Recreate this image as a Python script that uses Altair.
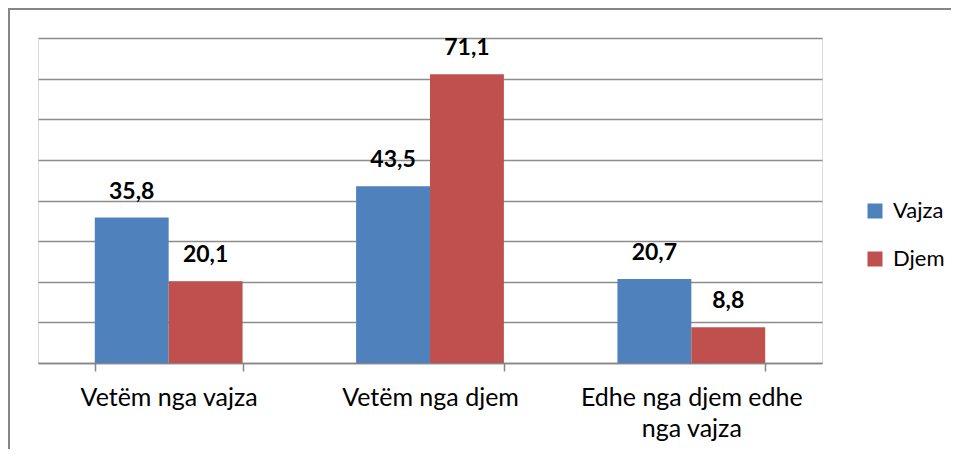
import altair as alt
import pandas as pd

categories = ["Vetëm nga vajza", "Vetëm nga djem", "Edhe nga djem edhe nga vajza"]
series = ["Vajza", "Djem"]
vajza = [35.8, 43.5, 20.7]
djem = [20.1, 71.1, 8.8]
colors = ["#4F81BD", "#C0504D"]
y_ticks = [0, 10, 20, 30, 40, 50, 60, 70, 80]

rows = []
for c, v in zip(categories, vajza):
    rows.append({"cat": c, "series": "Vajza", "value": v})
for c, v in zip(categories, djem):
    rows.append({"cat": c, "series": "Djem", "value": v})
df = pd.DataFrame(rows)

W, H = 784, 325
FONT = "Lato"

x_enc = alt.X(
    "cat:N",
    sort=categories,
    scale=alt.Scale(paddingInner=0.4345, paddingOuter=0.2173),
    axis=alt.Axis(
        title=None,
        tickBand="extent",
        tickSize=8,
        tickColor="#868686",
        tickWidth=1.5,
        domainColor="#868686",
        domainWidth=1.5,
        labelFont=FONT,
        labelFontSize=25,
        labelColor="#000000",
        labelPadding=14,
        labelLineHeight=31,
        labelLimit=0,
        labelAngle=0,
        labelExpr="datum.label == 'Edhe nga djem edhe nga vajza' ? ['Edhe nga djem edhe', 'nga vajza'] : datum.label",
        grid=False,
    ),
)
xoff = alt.XOffset("series:N", sort=series, scale=alt.Scale(paddingInner=0, paddingOuter=0))
y_enc = alt.Y(
    "value:Q",
    scale=alt.Scale(domain=[0, 80], nice=False),
    axis=alt.Axis(
        title=None,
        values=y_ticks,
        labels=False,
        ticks=False,
        domain=False,
        grid=True,
        gridColor="#8c8c8c",
        gridWidth=1.5,
    ),
)

base = alt.Chart(df)

bars = base.mark_bar().encode(
    x=x_enc,
    xOffset=xoff,
    y=y_enc,
    color=alt.Color(
        "series:N",
        sort=series,
        scale=alt.Scale(domain=series, range=colors),
        legend=alt.Legend(
            title=None,
            orient="none",
            legendX=826,
            legendY=162,
            symbolType="square",
            symbolSize=225,
            symbolStrokeWidth=0,
            labelFont=FONT,
            labelFontSize=22,
            labelColor="#000000",
            labelOffset=7,
            rowPadding=26,
        ),
    ),
)

labels = base.transform_calculate(
    lbl="replace(format(datum.value, '.1f'), '.', ',')"
).mark_text(
    font=FONT, fontSize=23, fontWeight="bold", color="#000000",
    baseline="alphabetic", dy=-19,
).encode(
    x=alt.X("cat:N", sort=categories),
    xOffset=xoff,
    y=alt.Y("value:Q"),
    text="lbl:N",
)

frame = alt.Chart(alt.Data(values=[{"a": 1}])).mark_rect(
    fill=None, stroke="#868686", strokeWidth=2
).encode(
    x=alt.value(-29), x2=alt.value(2000), y=alt.value(-29), y2=alt.value(2000)
)

chart = alt.layer(frame, bars, labels).properties(
    width=W,
    height=H,
    autosize=alt.AutoSizeParams(type="none"),
    padding={"left": 30, "top": 30, "right": 129, "bottom": 86},
).configure_view(stroke=None).configure(background="white")

chart.save("out.html", embed_options={"renderer": "svg", "actions": False})
